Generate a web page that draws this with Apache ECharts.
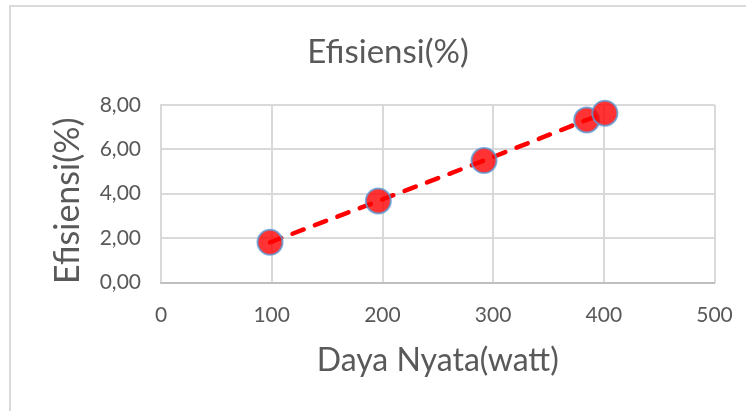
<!DOCTYPE html>
<html><head><meta charset="utf-8">
<script src="https://cdn.jsdelivr.net/npm/echarts@6/dist/echarts.min.js"></script>
<style>
html,body{margin:0;padding:0;background:#fff;width:746px;height:411px;overflow:hidden;}
#frame{position:absolute;left:9px;top:5px;width:760px;height:420px;border:2px solid #d9d9d9;box-sizing:border-box;}
#c{position:absolute;left:0;top:0;width:746px;height:411px;}
</style></head>
<body>
<div id="frame"></div>
<div id="c"></div>
<script>
const titleText = "Efisiensi(%)";
const xName = "Daya Nyata(watt)";
const yName = "Efisiensi(%)";
const dayaNyata = [98.5, 196.3, 291.8, 384.6, 401.0];
const efisiensi = [1.81, 3.67, 5.49, 7.32, 7.62];

const pts = dayaNyata.map((x, i) => [x, efisiensi[i]]);
const font = "Lato, 'Open Sans', sans-serif";
const chart = echarts.init(document.getElementById('c'), null, {renderer: 'canvas'});
chart.setOption({
  animation: false,
  backgroundColor: 'transparent',
  title: {
    text: titleText, left: 383, top: 31, textAlign: 'center',
    textStyle: {fontFamily: font, fontSize: 33, fontWeight: 'normal', color: '#595959'}
  },
  grid: {left: 161, right: 31.5, top: 104.8, bottom: 128.5},
  xAxis: {
    type: 'value', min: 0, max: 500, interval: 100,
    name: xName, nameLocation: 'middle', nameGap: 62,
    nameTextStyle: {fontFamily: font, fontSize: 32, color: '#595959'},
    axisLine: {show: true, lineStyle: {color: '#bfbfbf', width: 2}},
    axisTick: {show: false},
    axisLabel: {fontFamily: font, fontSize: 21, color: '#595959', margin: 22},
    splitLine: {show: true, lineStyle: {color: '#d9d9d9', width: 2}}
  },
  yAxis: {
    type: 'value', min: 0, max: 8, interval: 2,
    name: yName, nameLocation: 'middle', nameGap: 76,
    nameTextStyle: {fontFamily: font, fontSize: 34, color: '#595959', padding: [0, 14, 0, 0]},
    axisLine: {show: true, lineStyle: {color: '#d9d9d9', width: 2}},
    axisTick: {show: false},
    axisLabel: {fontFamily: font, fontSize: 21, color: '#595959', margin: 20,
      formatter: v => v.toFixed(2).replace('.', ',')},
    splitLine: {show: true, lineStyle: {color: '#d9d9d9', width: 2}}
  },
  series: [
    {
      type: 'line', data: pts, symbol: 'none', z: 2,
      lineStyle: {color: '#ff0000', width: 4.5, type: [12, 12], cap: 'round'}
    },
    {
      type: 'scatter', data: pts, symbol: 'circle', symbolSize: 25, z: 3,
      itemStyle: {color: '#ff0000', borderColor: '#5b9bd5', borderWidth: 2}
    }
  ]
});
</script>
</body></html>
